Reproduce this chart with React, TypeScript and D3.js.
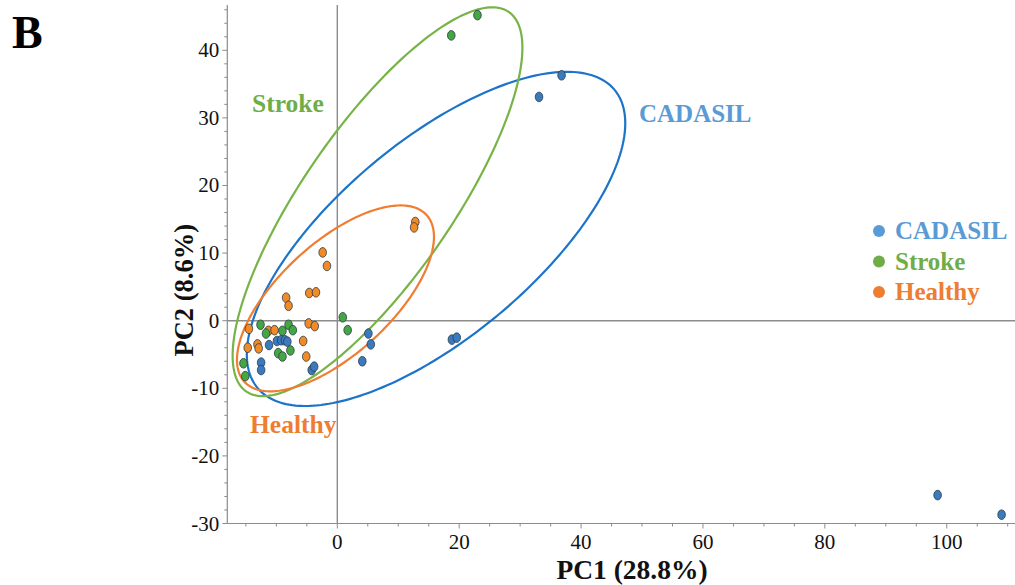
import React from "react";
import * as d3 from "d3";

// PCA scores (PC1, PC2) per group
const groups = ["CADASIL", "Stroke", "Healthy"];

const cadasilPC1 = [98.5, 109.0, 36.8, 33.1, 18.8, 19.6, 5.1, 5.5, 4.1, -4.2, -3.8, -9.9, -9.2, -8.6, -8.2, -11.2, -12.5, -12.5];
const cadasilPC2 = [-25.8, -28.7, 36.3, 33.1, -2.8, -2.5, -1.9, -3.5, -6.0, -7.3, -6.8, -3.0, -2.9, -2.9, -3.1, -3.6, -6.2, -7.3];

const strokePC1 = [23.0, 18.7, 0.9, 1.7, -12.6, -11.7, -9.0, -8.0, -7.3, -9.7, -9.0, -7.7, -15.4, -15.1];
const strokePC2 = [45.2, 42.2, 0.5, -1.4, -0.6, -1.9, -1.5, -0.6, -1.4, -4.8, -5.3, -4.4, -6.3, -8.2];

const healthyPC1 = [-14.5, -11.3, -10.3, -4.7, -3.7, -14.7, -13.1, -12.9, -5.6, -5.1, -2.4, -1.7, 12.8, 12.6, -8.4, -8.0, -4.6, -3.5];
const healthyPC2 = [-1.2, -1.5, -1.4, -0.4, -0.8, -4.0, -3.5, -4.1, -3.0, -5.3, 10.1, 8.1, 14.6, 13.8, 3.4, 2.2, 4.1, 4.2];

// Confidence ellipses in score space: centre, semi-axes, rotation (degrees)
const ellipseCX = [16.2, 6.6, -0.3];
const ellipseCY = [12.1, 17.6, 3.3];
const ellipseRX = [36.7, 35.4, 19.4];
const ellipseRY = [15.1, 11.8, 8.6];
const ellipseAngle = [35.8, 51.8, 38.1];

const xTicks = [0, 20, 40, 60, 80, 100];
const yTicks = [-30, -20, -10, 0, 10, 20, 30, 40];

const pointFill = ["#3a7bc0", "#43a843", "#f28a26"];
const lineColor = ["#1c74c9", "#78b348", "#ef7d32"];
const labelColor = ["#5b9bd5", "#70ad47", "#ed7d31"];

const W = 1015;
const H = 585;
const serif = "'Liberation Serif', 'Times New Roman', serif";

export default function App() {
  const x = d3.scaleLinear().domain([-18.05, 111.2]).range([227.3, 1015]);
  const y = d3.scaleLinear().domain([-30, 46.7]).range([523.5, 5]);

  const series = [
    { pc1: cadasilPC1, pc2: cadasilPC2 },
    { pc1: strokePC1, pc2: strokePC2 },
    { pc1: healthyPC1, pc2: healthyPC2 },
  ];

  const line = d3
    .line<[number, number]>()
    .x((d) => x(d[0]))
    .y((d) => y(d[1]))
    .curve(d3.curveLinearClosed);

  const ellipsePath = (i: number) => {
    const phi = (ellipseAngle[i] * Math.PI) / 180;
    const pts: [number, number][] = d3.range(0, 240).map((k) => {
      const t = (k / 240) * Math.PI * 2;
      const a = ellipseRX[i] * Math.cos(t);
      const b = ellipseRY[i] * Math.sin(t);
      return [
        ellipseCX[i] + a * Math.cos(phi) - b * Math.sin(phi),
        ellipseCY[i] + a * Math.sin(phi) + b * Math.cos(phi),
      ];
    });
    return line(pts) || "";
  };

  const [x0, x1] = x.range();
  const [yBottom, yTop] = y.range();

  const xMinor = d3.range(-15, 111, 5).filter((v) => !xTicks.includes(v));
  const yMinor = d3.range(-30, 47, 2).filter((v) => !yTicks.includes(v));

  // draw order: Healthy, Stroke, CADASIL on top
  const drawOrder = [2, 1, 0];

  return (
    <svg
      width={W}
      height={H}
      style={{ position: "absolute", left: 0, top: 0, background: "#fff" }}
    >
      <rect width={W} height={H} fill="#fff" />

      {/* panel letter */}
      <text x={12} y={48} fontFamily={serif} fontWeight="bold" fontSize={46} fill="#000">
        B
      </text>

      {/* zero reference lines */}
      <line x1={x(0)} x2={x(0)} y1={yTop} y2={yBottom} stroke="#8c8c8c" strokeWidth={1.4} />
      <line x1={x0} x2={x1} y1={y(0)} y2={y(0)} stroke="#8c8c8c" strokeWidth={1.4} />

      {/* axes */}
      <line x1={x0} x2={x0} y1={yTop} y2={yBottom} stroke="#8c8c8c" strokeWidth={1.2} />
      <line x1={x0} x2={x1} y1={yBottom} y2={yBottom} stroke="#8c8c8c" strokeWidth={1.2} />

      {yTicks.map((v) => (
        <g key={"yt" + v}>
          <line x1={x0 - 5} x2={x0} y1={y(v)} y2={y(v)} stroke="#8c8c8c" strokeWidth={1} />
          <text
            x={x0 - 8}
            y={y(v) + 7}
            textAnchor="end"
            fontFamily={serif}
            fontSize={21}
            fill="#111"
          >
            {v}
          </text>
        </g>
      ))}
      {yMinor.map((v) => (
        <line key={"ym" + v} x1={x0 - 3} x2={x0} y1={y(v)} y2={y(v)} stroke="#8c8c8c" strokeWidth={1} />
      ))}

      {xTicks.map((v) => (
        <g key={"xt" + v}>
          <line x1={x(v)} x2={x(v)} y1={yBottom} y2={yBottom + 5} stroke="#8c8c8c" strokeWidth={1} />
          <text
            x={x(v)}
            y={yBottom + 25}
            textAnchor="middle"
            fontFamily={serif}
            fontSize={21}
            fill="#111"
          >
            {v}
          </text>
        </g>
      ))}
      {xMinor.map((v) => (
        <line key={"xm" + v} x1={x(v)} x2={x(v)} y1={yBottom} y2={yBottom + 3} stroke="#8c8c8c" strokeWidth={1} />
      ))}

      {/* axis titles */}
      <text
        x={632}
        y={579}
        textAnchor="middle"
        fontFamily={serif}
        fontWeight="bold"
        fontSize={27.5}
        fill="#111"
      >
        PC1 (28.8%)
      </text>
      <text
        transform={`translate(193, ${(yTop + yBottom) / 2 + 26}) rotate(-90)`}
        textAnchor="middle"
        fontFamily={serif}
        fontWeight="bold"
        fontSize={26.5}
        fill="#111"
      >
        PC2 (8.6%)
      </text>

      {/* confidence ellipses */}
      {[0, 1, 2].map((i) => (
        <path
          key={"el" + i}
          d={ellipsePath(i)}
          fill="none"
          stroke={lineColor[i]}
          strokeWidth={2.2}
        />
      ))}

      {/* score points */}
      {drawOrder.map((g) => (
        <g key={"pts" + g}>
          {series[g].pc1.map((v, j) => (
            <ellipse
              key={j}
              cx={x(v)}
              cy={y(series[g].pc2[j])}
              rx={3.8}
              ry={4.8}
              fill={pointFill[g]}
              stroke="#2b3a44"
              strokeWidth={0.8}
            />
          ))}
        </g>
      ))}

      {/* group labels near ellipses */}
      <text x={639} y={122} fontFamily={serif} fontWeight="bold" fontSize={25} fill={labelColor[0]}>
        {groups[0]}
      </text>
      <text x={252} y={112} fontFamily={serif} fontWeight="bold" fontSize={25.5} fill={labelColor[1]}>
        {groups[1]}
      </text>
      <text x={250} y={433} fontFamily={serif} fontWeight="bold" fontSize={25.5} fill={labelColor[2]}>
        {groups[2]}
      </text>

      {/* legend */}
      {groups.map((name, i) => (
        <g key={"lg" + name}>
          <circle cx={879} cy={231 + i * 30.5} r={6} fill={labelColor[i]} />
          <text
            x={895}
            y={239 + i * 30.5}
            fontFamily={serif}
            fontWeight="bold"
            fontSize={25}
            fill={labelColor[i]}
          >
            {name}
          </text>
        </g>
      ))}
    </svg>
  );
}
